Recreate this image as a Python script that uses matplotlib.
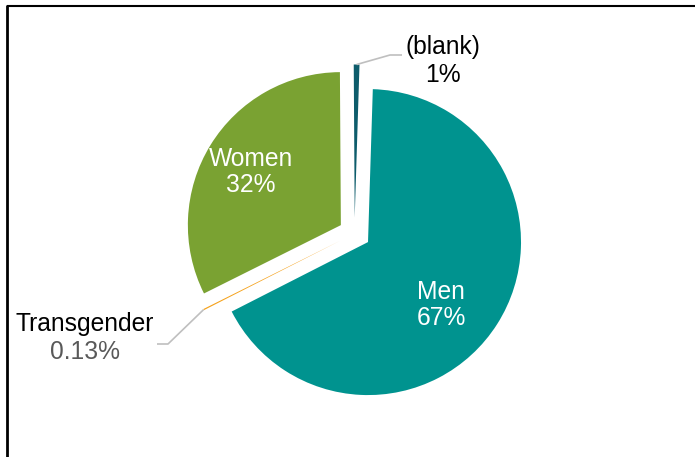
import matplotlib
matplotlib.use("Agg")
import matplotlib.pyplot as plt
import numpy as np

plt.rcParams['font.family'] = ['Liberation Sans', 'DejaVu Sans']

categories = ["Men", "Transgender", "Women", "(blank)"]
values = [67.0, 0.13, 32.27, 0.6]
pct_labels = ["67%", "0.13%", "32%", "1%"]
colors = ["#00938F", "#F5A21C", "#7AA232", "#0D5C6B"]

W, H = 695, 457
fig = plt.figure(figsize=(W / 100, H / 100), dpi=100)
ax = fig.add_axes([0, 0, 1, 1])

def Y(y):
    return H - y

R = 153
cx, cy = 354.5, Y(233.5)
expl = 16
wedges, _ = ax.pie(values, colors=colors, startangle=88.2, counterclock=False,
                   center=(cx, cy), radius=R, explode=[expl] * 4,
                   wedgeprops=dict(linewidth=0), frame=True)
ax.set_xlim(0, W)
ax.set_ylim(0, H)
ax.set_aspect('equal')
ax.axis('off')

fs = 17.7
# inside labels
ax.text(251, Y(172), f"{categories[2]}\n{pct_labels[2]}", color="white", fontsize=fs,
        ha="center", va="center", linespacing=1.15)
ax.text(441, Y(305), f"{categories[0]}\n{pct_labels[0]}", color="white", fontsize=fs,
        ha="center", va="center", linespacing=1.15)

# outside labels with leader lines
def outer_point(w):
    t = np.deg2rad((w.theta1 + w.theta2) / 2)
    return w.center[0] + w.r * np.cos(t), w.center[1] + w.r * np.sin(t)

bx, by = outer_point(wedges[3])
ax.plot([bx, 390, 402], [by, Y(55), Y(55)], color="#BFBFBF", lw=1.2, solid_capstyle="butt")
ax.text(443, Y(47), categories[3], color="black", fontsize=fs, ha="center", va="center")
ax.text(443, Y(75), pct_labels[3], color="black", fontsize=fs, ha="center", va="center")

tx, ty = outer_point(wedges[1])
ax.plot([tx, 168, 157], [ty, Y(344), Y(344)], color="#BFBFBF", lw=1.2, solid_capstyle="butt")
ax.text(85, Y(324), categories[1], color="black", fontsize=fs, ha="center", va="center")
ax.text(85, Y(352), pct_labels[1], color="#595959", fontsize=fs, ha="center", va="center")

# frame lines (top and left)
ax.plot([7, W], [Y(5.5), Y(5.5)], color="black", lw=1.5, solid_capstyle="butt")
ax.plot([7, 7], [Y(5), 0], color="black", lw=2, solid_capstyle="butt")

fig.savefig("out.png", dpi=100)
